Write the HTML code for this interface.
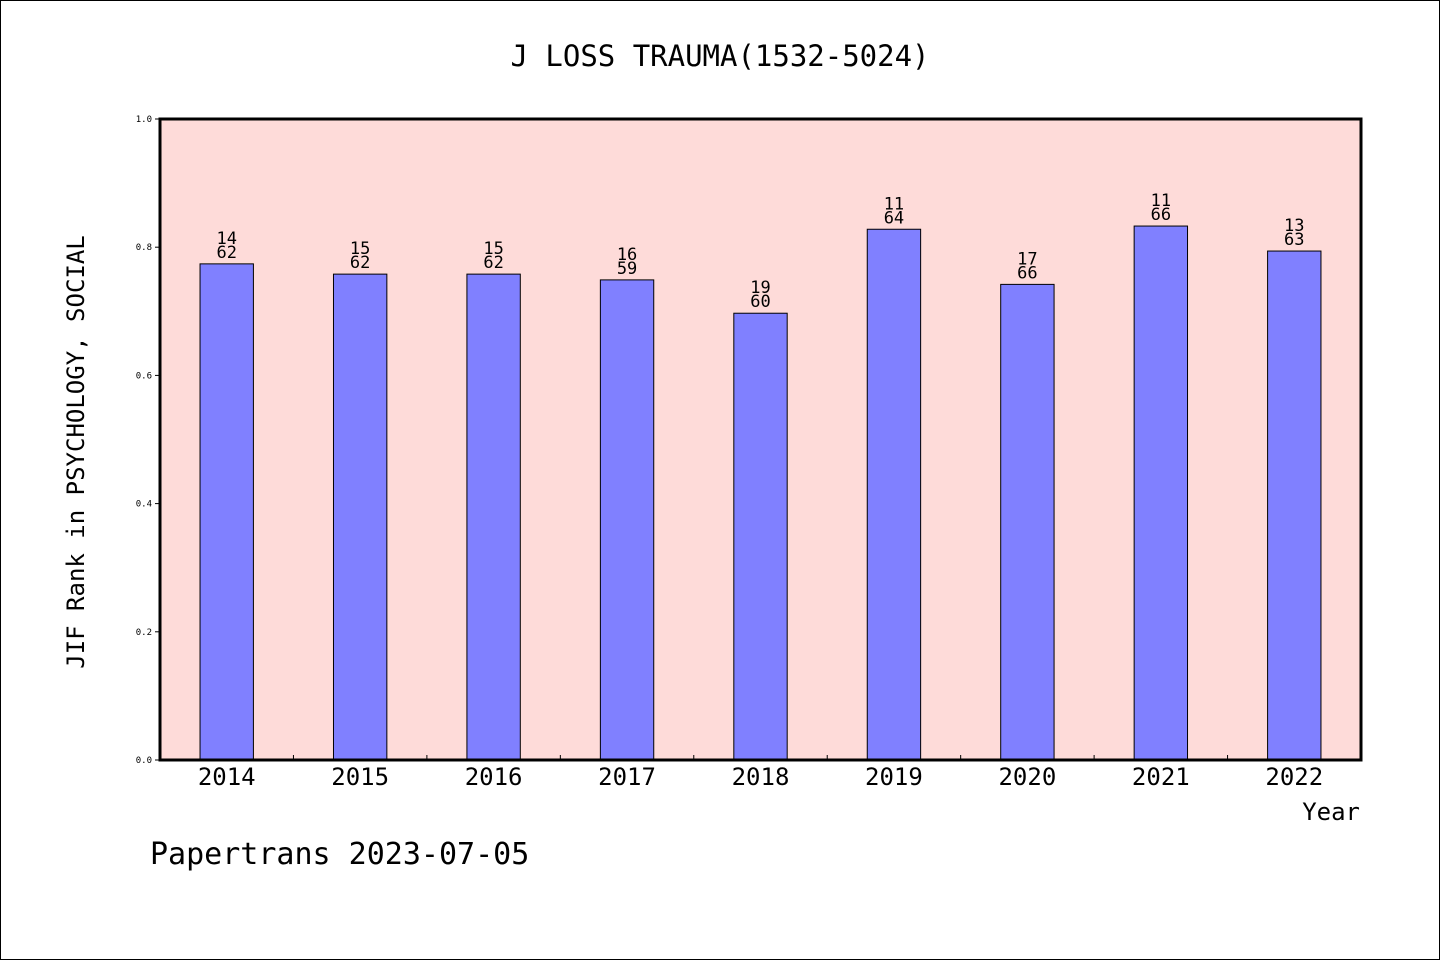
<!DOCTYPE html>
<html><head><meta charset="utf-8"><style>
body{margin:0;background:#fff}
svg text{font-family:"DejaVu Sans Mono","Liberation Mono",monospace;fill:#000}
</style></head><body>
<svg id="c" width="1440" height="960">
<rect x="0.5" y="0.5" width="1439" height="959" fill="#fff" stroke="#000"/>
<text x="720" y="66" font-size="29" text-anchor="middle">J LOSS TRAUMA(1532-5024)</text>
<rect x="160" y="119" width="1201" height="641" fill="#fedbd9"/>
<g id="bars"></g>
<rect x="160" y="119" width="1201" height="641" fill="none" stroke="#000" stroke-width="3"/>
<text x="84" y="452" font-size="24" text-anchor="middle" transform="rotate(-90 84 452)">JIF Rank in PSYCHOLOGY, SOCIAL</text>
<text x="1360" y="820" font-size="24" text-anchor="end">Year</text>
<text x="150" y="864" font-size="30">Papertrans 2023-07-05</text>
</svg>
<script>
const years=["2014","2015","2016","2017","2018","2019","2020","2021","2022"];
const values=[0.774,0.758,0.758,0.749,0.697,0.828,0.742,0.833,0.794];
const ranks=[14,15,15,16,19,11,17,11,13];
const totals=[62,62,62,59,60,64,66,66,63];
const yTicks=["0.0","0.2","0.4","0.6","0.8","1.0"];
const X0=160,W=1201,Y0=760,H=641;
const step=W/years.length;
const xc=i=>X0+step*(i+0.5);
const y=v=>Y0-v*H;
const ns="http://www.w3.org/2000/svg";
const g=document.getElementById('bars');
function mk(t,a){const e=document.createElementNS(ns,t);for(const k in a)e.setAttribute(k,a[k]);g.appendChild(e);return e;}
years.forEach((yr,i)=>{
  const bw=step*0.4;
  const r=mk('rect',{x:xc(i)-bw/2,y:y(values[i]),width:bw,height:Y0-y(values[i]),fill:'#8080ff',stroke:'#000','stroke-width':1});
  
  
  const t1=mk('text',{x:xc(i),y:y(values[i])-20,'font-size':17,'text-anchor':'middle'});
  t1.textContent=ranks[i];
  
  
  const t2=mk('text',{x:xc(i),y:y(values[i])-6,'font-size':17,'text-anchor':'middle'});
  t2.textContent=totals[i];
  
  
  const xl=mk('text',{x:xc(i),y:785,'font-size':24,'text-anchor':'middle'});
  xl.textContent=yr;
  
  
  if(i>0){const tk=mk('line',{x1:X0+step*i,x2:X0+step*i,y1:Y0,y2:Y0-5,stroke:'#000'});
  
  }
});
yTicks.forEach(l=>{
  const v=parseFloat(l);
  const tk=mk('line',{x1:X0-5,x2:X0,y1:y(v),y2:y(v),stroke:'#000'});
  
  
  const t=mk('text',{x:X0-8,y:y(v)+3,'font-size':9,'text-anchor':'end'});
  t.textContent=l;
  
  
});
</script>
</body></html>
